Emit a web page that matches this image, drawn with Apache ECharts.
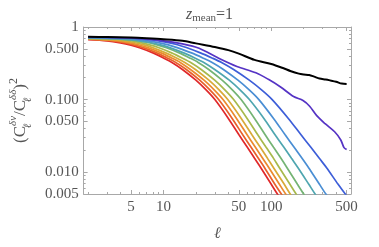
<!DOCTYPE html>
<html><head><meta charset="utf-8">
<script src="https://cdn.jsdelivr.net/npm/echarts@6/dist/echarts.min.js"></script>
<style>html,body{margin:0;padding:0;background:#fff}#c{width:379px;height:247px}</style>
</head><body><div id="c"></div>
<script>
// ---- tick values / labels ----
const xMajorTicks = [5, 10, 50, 100, 500];
const xMinorTicks = [2, 3, 4, 6, 7, 8, 9, 20, 30, 40, 60, 70, 80, 90, 200, 300, 400];
const yMajorTicks = [0.005, 0.01, 0.05, 0.1, 0.5, 1];
const yTickLabels = ['0.005', '0.010', '0.050', '0.100', '0.500', '1'];
const yMinorTicks = [0.006, 0.007, 0.008, 0.009, 0.02, 0.03, 0.04, 0.06, 0.07, 0.08, 0.09, 0.2, 0.3, 0.4, 0.6, 0.7, 0.8, 0.9];

// ---- series data (ell, value) ----
const ellBlack = [2, 3, 5, 7, 10, 15, 20, 30, 40, 50, 70, 100, 130, 150, 180, 200, 225, 250, 280, 320, 350, 400, 450, 500];
const valBlack = [0.734, 0.728, 0.715, 0.7, 0.68, 0.648, 0.595, 0.53, 0.48, 0.43, 0.352, 0.309, 0.27, 0.248, 0.228, 0.222, 0.218, 0.207, 0.195, 0.189, 0.184, 0.176, 0.166, 0.164];

const ellPurple = [2, 5, 10, 15, 21.4, 32, 48, 72, 94, 123, 161, 197, 227, 264, 316, 387, 440, 473, 500];
const valPurple = [0.728, 0.705, 0.645, 0.585, 0.509, 0.376, 0.286, 0.234, 0.19, 0.148, 0.11, 0.097, 0.081, 0.060, 0.0465, 0.036, 0.028, 0.0218, 0.0205];

const ellBlue = [2, 5.02, 7.71, 10.5, 13.5, 16.3, 22, 28.2, 34.6, 44.8, 62.5, 81.8, 102, 144, 188, 233, 279, 326, 417, 486, 567];
const valBlue = [0.722, 0.70, 0.665, 0.618, 0.57, 0.521, 0.44, 0.375, 0.325, 0.26, 0.185, 0.135, 0.1, 0.055, 0.033, 0.022, 0.0155, 0.0115, 0.0068, 0.005, 0.0038];

const ellLightBlue = [2, 4.28, 6.49, 8.75, 11.1, 13.4, 18.2, 23.2, 28.3, 36, 49.1, 62.8, 76.8, 105, 134, 163, 193, 222, 280, 321, 368];
const valLightBlue = [0.716, 0.695, 0.66, 0.615, 0.568, 0.52, 0.44, 0.375, 0.325, 0.26, 0.185, 0.135, 0.1, 0.055, 0.033, 0.022, 0.0155, 0.0115, 0.0068, 0.005, 0.0038];

const ellTeal = [2, 3.64, 5.52, 7.45, 9.42, 11.4, 15.4, 19.5, 23.7, 29.9, 40.8, 51.6, 62.7, 85.5, 108, 131, 154, 177, 223, 255, 292];
const valTeal = [0.71, 0.69, 0.655, 0.612, 0.566, 0.52, 0.44, 0.375, 0.325, 0.26, 0.185, 0.135, 0.1, 0.055, 0.033, 0.022, 0.0155, 0.0115, 0.0068, 0.005, 0.0038];

const ellGreen = [2, 3, 5.25, 7, 8.75, 10.5, 14, 17.5, 21, 26.3, 35, 43.8, 52.5, 70, 87.5, 105, 123, 140, 175, 200, 228];
const valGreen = [0.704, 0.695, 0.665, 0.618, 0.568, 0.522, 0.44, 0.375, 0.325, 0.26, 0.185, 0.135, 0.1, 0.055, 0.033, 0.022, 0.0155, 0.0115, 0.0068, 0.005, 0.0038];

const ellYellowGreen = [2, 3, 4.48, 5.97, 7.47, 8.96, 11.9, 14.9, 17.9, 22.4, 29.9, 37.3, 44.8, 59.7, 74.7, 89.6, 105, 119, 149, 170, 194];
const valYellowGreen = [0.698, 0.69, 0.66, 0.615, 0.567, 0.521, 0.44, 0.375, 0.325, 0.26, 0.185, 0.135, 0.1, 0.055, 0.033, 0.022, 0.0155, 0.0115, 0.0068, 0.005, 0.0038];

const ellGold = [2, 3.95, 5.27, 6.59, 7.91, 10.5, 13.2, 15.8, 19.8, 26.4, 33, 39.5, 52.7, 65.9, 79.1, 92.3, 105, 132, 150, 171];
const valGold = [0.692, 0.655, 0.612, 0.566, 0.52, 0.44, 0.375, 0.325, 0.26, 0.185, 0.135, 0.1, 0.055, 0.033, 0.022, 0.0155, 0.0115, 0.0068, 0.005, 0.0038];

const ellOrange = [2, 3.57, 4.76, 5.95, 7.13, 9.51, 11.9, 14.3, 17.8, 23.8, 29.7, 35.7, 47.6, 59.5, 71.3, 83.2, 95.1, 119, 136, 155];
const valOrange = [0.686, 0.65, 0.61, 0.565, 0.52, 0.44, 0.375, 0.325, 0.26, 0.185, 0.135, 0.1, 0.055, 0.033, 0.022, 0.0155, 0.0115, 0.0068, 0.005, 0.0038];

const ellOrangeRed = [2, 3.25, 4.34, 5.42, 6.5, 8.67, 10.8, 13, 16.3, 21.7, 27.1, 32.5, 43.4, 54.2, 65, 75.9, 86.7, 108, 124, 141];
const valOrangeRed = [0.678, 0.647, 0.607, 0.563, 0.519, 0.44, 0.375, 0.325, 0.26, 0.185, 0.135, 0.1, 0.055, 0.033, 0.022, 0.0155, 0.0115, 0.0068, 0.005, 0.0038];

const ellRed = [2, 3, 4, 5, 6, 8, 10, 12, 15, 20, 25, 30, 40, 50, 60, 70, 80, 100, 114, 130];
const valRed = [0.670, 0.645, 0.605, 0.562, 0.518, 0.44, 0.375, 0.325, 0.26, 0.185, 0.135, 0.1, 0.055, 0.033, 0.022, 0.0155, 0.0115, 0.0068, 0.005, 0.0038];

const curves = [
  {name: 'red', ell: ellRed, val: valRed, color: '#e0282a'},
  {name: 'orangered', ell: ellOrangeRed, val: valOrangeRed, color: '#e8602a'},
  {name: 'orange', ell: ellOrange, val: valOrange, color: '#eb8a2e'},
  {name: 'gold', ell: ellGold, val: valGold, color: '#d8aa38'},
  {name: 'yellowgreen', ell: ellYellowGreen, val: valYellowGreen, color: '#a8b94c'},
  {name: 'green', ell: ellGreen, val: valGreen, color: '#74b474'},
  {name: 'teal', ell: ellTeal, val: valTeal, color: '#4fa6b0'},
  {name: 'lightblue', ell: ellLightBlue, val: valLightBlue, color: '#4a8ed4'},
  {name: 'blue', ell: ellBlue, val: valBlue, color: '#3d5ed8'},
  {name: 'purple', ell: ellPurple, val: valPurple, color: '#5533c4'},
  {name: 'black', ell: ellBlack, val: valBlack, color: '#000000'}
];

const FRAME = '#a8a8a8';
const TXT = '#555555';
const SERIF = '"Liberation Serif","DejaVu Serif",serif';
const XMIN = 1.82, XMAX = 549, YMIN = 0.005, YMAX = 1;

function xAx(pos, ticks, len, showLine, showLabel) {
  return {
    type: 'log', logBase: 10, min: XMIN, max: XMAX, position: pos,
    axisLine: {show: showLine, lineStyle: {color: FRAME, width: 1}},
    axisTick: {show: true, inside: true, length: len, customValues: ticks, lineStyle: {color: FRAME, width: 1}},
    axisLabel: showLabel ? {show: true, customValues: xMajorTicks, margin: 6, color: TXT, fontFamily: SERIF, fontSize: 15,
      formatter: v => String(Math.round(v))} : {show: false},
    splitLine: {show: false}, minorTick: {show: false}
  };
}
function yAx(pos, ticks, len, showLine, showLabel) {
  return {
    type: 'log', logBase: 10, min: YMIN, max: YMAX, position: pos,
    axisLine: {show: showLine, lineStyle: {color: FRAME, width: 1}},
    axisTick: {show: true, inside: true, length: len, customValues: ticks, lineStyle: {color: FRAME, width: 1}},
    axisLabel: showLabel ? {show: true, customValues: yMajorTicks, margin: 5, color: TXT, fontFamily: SERIF, fontSize: 15,
      formatter: v => { let best = 0; yMajorTicks.forEach((t, i) => { if (Math.abs(Math.log(t) - Math.log(v)) < Math.abs(Math.log(yMajorTicks[best]) - Math.log(v))) best = i; }); return yTickLabels[best]; }} : {show: false},
    splitLine: {show: false}, minorTick: {show: false}
  };
}

const xAxes = [xAx('bottom', xMajorTicks, 4, true, true), xAx('bottom', xMinorTicks, 2, false, false),
               xAx('top', xMajorTicks, 4, true, false), xAx('top', xMinorTicks, 2, false, false)];
xAxes[0].name = 'ℓ';
xAxes[0].nameLocation = 'middle';
xAxes[0].nameGap = 32;
xAxes[0].nameTextStyle = {fontFamily: SERIF, fontStyle: 'italic', fontSize: 16, color: TXT};

const yAxes = [yAx('left', yMajorTicks, 4, true, true), yAx('left', yMinorTicks, 2, false, false),
               yAx('right', yMajorTicks, 4, true, false), yAx('right', yMinorTicks, 2, false, false)];
yAxes[0].name = '{t|(C}{sb|ℓ}{sp|δν}{t|/C}{sb|ℓ}{sp|δδ}{t|)}{s2|2}';
yAxes[0].nameLocation = 'middle';
yAxes[0].nameRotate = 90;
yAxes[0].nameGap = 48;
yAxes[0].nameTextStyle = {
  fontFamily: SERIF, fontSize: 17, color: TXT,
  rich: {
    t: {fontFamily: SERIF, fontSize: 17, color: TXT, lineHeight: 26},
    sb: {fontFamily: SERIF, fontSize: 11, fontStyle: 'italic', color: TXT, verticalAlign: 'bottom', lineHeight: 16, width: 0.01},
    sp: {fontFamily: SERIF, fontSize: 11, fontStyle: 'italic', color: TXT, verticalAlign: 'top', lineHeight: 13},
    s2: {fontFamily: SERIF, fontSize: 12, color: TXT, verticalAlign: 'top', lineHeight: 13}
  }
};

const chart = echarts.init(document.getElementById('c'), null, {renderer: 'canvas'});
chart.setOption({
  animation: false,
  backgroundColor: '#ffffff',
  title: {
    text: '{z|z}{s|mean}{e|=1}', left: 181, top: 0,
    textStyle: {fontWeight: 'normal', rich: {
      z: {fontFamily: SERIF, fontStyle: 'italic', fontWeight: 'normal', fontSize: 16, color: TXT, lineHeight: 19},
      s: {fontFamily: SERIF, fontWeight: 'normal', fontSize: 11, color: TXT, verticalAlign: 'bottom', lineHeight: 12},
      e: {fontFamily: SERIF, fontWeight: 'normal', fontSize: 16, color: TXT, lineHeight: 19}
    }}
  },
  grid: {left: 68, right: 28, top: 27, bottom: 45, containLabel: false},
  xAxis: xAxes,
  yAxis: yAxes,
  series: curves.map(c => ({
    type: 'line', name: c.name, xAxisIndex: 0, yAxisIndex: 0,
    data: c.ell.map((e, i) => [e, c.val[i]]),
    showSymbol: false, smooth: 0.3, clip: true,
    lineStyle: {color: c.color, width: c.name === 'black' ? 2 : 1.7},
    z: c.name === 'black' ? 3 : 2
  }))
});
</script></body></html>
